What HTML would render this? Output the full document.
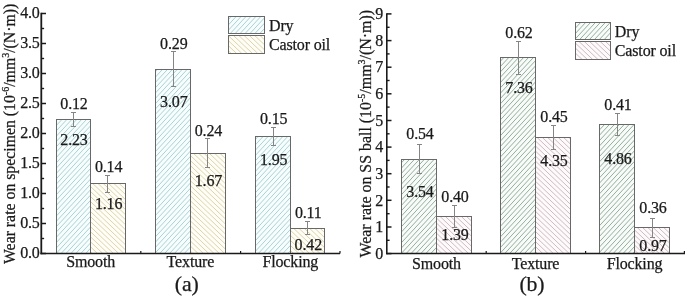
<!DOCTYPE html>
<html><head><meta charset="utf-8"><title>Wear rate</title>
<style>
html,body{margin:0;padding:0;background:#fff;}
body{width:685px;height:296px;overflow:hidden;}
svg{display:block;font-family:"Liberation Serif",serif;}
text{fill:#1a1a1a;stroke:#1a1a1a;stroke-width:0.25px;letter-spacing:-0.15px;}
text.yl{letter-spacing:0;}
</style></head><body>
<svg width="685" height="296" viewBox="0 0 685 296">
<rect width="685" height="296" fill="#fff"/>

<rect x="56.5" y="119.5" width="34.0" height="134.0" fill="#f7fcfc"/><path d="M57.0 119.5L56.5 120.0M61.9 119.5L56.5 125.3M66.8 119.5L56.5 130.6M71.8 119.5L56.5 136.0M76.7 119.5L56.5 141.3M81.6 119.5L56.5 146.6M86.5 119.5L56.5 151.9M90.5 120.5L56.5 157.3M90.5 125.9L56.5 162.6M90.5 131.2L56.5 167.9M90.5 136.5L56.5 173.2M90.5 141.8L56.5 178.6M90.5 147.2L56.5 183.9M90.5 152.5L56.5 189.2M90.5 157.8L56.5 194.5M90.5 163.1L56.5 199.9M90.5 168.5L56.5 205.2M90.5 173.8L56.5 210.5M90.5 179.1L56.5 215.8M90.5 184.4L56.5 221.2M90.5 189.8L56.5 226.5M90.5 195.1L56.5 231.8M90.5 200.4L56.5 237.1M90.5 205.7L56.5 242.4M90.5 211.1L56.5 247.8M90.5 216.4L56.5 253.1M90.5 221.7L61.1 253.5M90.5 227.0L66.0 253.5M90.5 232.4L70.9 253.5M90.5 237.7L75.8 253.5M90.5 243.0L80.8 253.5M90.5 248.3L85.7 253.5" stroke="#96c8cc" stroke-width="0.8" fill="none"/><rect x="56.5" y="119.5" width="34.0" height="134.0" fill="none" stroke="#686868" stroke-width="1"/>
<rect x="90.5" y="183.5" width="35.0" height="70.0" fill="#fefdf8"/><path d="M90.5 251.9L92.2 253.5M90.5 246.8L97.5 253.5M90.5 241.8L102.8 253.5M90.5 236.8L108.1 253.5M90.5 231.7L113.4 253.5M90.5 226.7L118.7 253.5M90.5 221.7L124.0 253.5M90.5 216.6L125.5 249.9M90.5 211.6L125.5 244.8M90.5 206.6L125.5 239.8M90.5 201.6L125.5 234.8M90.5 196.5L125.5 229.7M90.5 191.5L125.5 224.7M90.5 186.5L125.5 219.7M92.7 183.5L125.5 214.7M98.0 183.5L125.5 209.6M103.3 183.5L125.5 204.6M108.6 183.5L125.5 199.6M113.9 183.5L125.5 194.5M119.2 183.5L125.5 189.5M124.5 183.5L125.5 184.5" stroke="#d5ca92" stroke-width="0.8" fill="none"/><rect x="90.5" y="183.5" width="35.0" height="70.0" fill="none" stroke="#686868" stroke-width="1"/>
<rect x="155.5" y="69.5" width="35.0" height="184.0" fill="#f7fcfc"/><path d="M157.5 69.5L155.5 71.7M162.4 69.5L155.5 77.0M167.4 69.5L155.5 82.3M172.3 69.5L155.5 87.6M177.2 69.5L155.5 92.9M182.1 69.5L155.5 98.3M187.1 69.5L155.5 103.6M190.5 71.1L155.5 108.9M190.5 76.4L155.5 114.2M190.5 81.8L155.5 119.6M190.5 87.1L155.5 124.9M190.5 92.4L155.5 130.2M190.5 97.7L155.5 135.5M190.5 103.1L155.5 140.9M190.5 108.4L155.5 146.2M190.5 113.7L155.5 151.5M190.5 119.0L155.5 156.8M190.5 124.4L155.5 162.2M190.5 129.7L155.5 167.5M190.5 135.0L155.5 172.8M190.5 140.3L155.5 178.1M190.5 145.7L155.5 183.5M190.5 151.0L155.5 188.8M190.5 156.3L155.5 194.1M190.5 161.6L155.5 199.4M190.5 167.0L155.5 204.7M190.5 172.3L155.5 210.1M190.5 177.6L155.5 215.4M190.5 182.9L155.5 220.7M190.5 188.2L155.5 226.0M190.5 193.6L155.5 231.4M190.5 198.9L155.5 236.7M190.5 204.2L155.5 242.0M190.5 209.5L155.5 247.3M190.5 214.9L155.5 252.7M190.5 220.2L159.7 253.5M190.5 225.5L164.6 253.5M190.5 230.8L169.5 253.5M190.5 236.2L174.4 253.5M190.5 241.5L179.4 253.5M190.5 246.8L184.3 253.5M190.5 252.1L189.2 253.5" stroke="#96c8cc" stroke-width="0.8" fill="none"/><rect x="155.5" y="69.5" width="35.0" height="184.0" fill="none" stroke="#686868" stroke-width="1"/>
<rect x="190.5" y="153.5" width="35.0" height="100.0" fill="#fefdf8"/><path d="M190.5 251.2L192.9 253.5M190.5 246.2L198.2 253.5M190.5 241.1L203.5 253.5M190.5 236.1L208.8 253.5M190.5 231.1L214.1 253.5M190.5 226.0L219.4 253.5M190.5 221.0L224.7 253.5M190.5 216.0L225.5 249.2M190.5 211.0L225.5 244.2M190.5 205.9L225.5 239.1M190.5 200.9L225.5 234.1M190.5 195.9L225.5 229.1M190.5 190.8L225.5 224.1M190.5 185.8L225.5 219.0M190.5 180.8L225.5 214.0M190.5 175.7L225.5 209.0M190.5 170.7L225.5 203.9M190.5 165.7L225.5 198.9M190.5 160.7L225.5 193.9M190.5 155.6L225.5 188.8M193.6 153.5L225.5 183.8M198.9 153.5L225.5 178.8M204.2 153.5L225.5 173.8M209.5 153.5L225.5 168.7M214.8 153.5L225.5 163.7M220.1 153.5L225.5 158.7" stroke="#d5ca92" stroke-width="0.8" fill="none"/><rect x="190.5" y="153.5" width="35.0" height="100.0" fill="none" stroke="#686868" stroke-width="1"/>
<rect x="255.5" y="136.5" width="35.0" height="117.0" fill="#f7fcfc"/><path d="M258.1 136.5L255.5 139.4M263.1 136.5L255.5 144.7M268.0 136.5L255.5 150.0M272.9 136.5L255.5 155.3M277.9 136.5L255.5 160.6M282.8 136.5L255.5 166.0M287.7 136.5L255.5 171.3M290.5 138.8L255.5 176.6M290.5 144.1L255.5 181.9M290.5 149.5L255.5 187.3M290.5 154.8L255.5 192.6M290.5 160.1L255.5 197.9M290.5 165.4L255.5 203.2M290.5 170.8L255.5 208.6M290.5 176.1L255.5 213.9M290.5 181.4L255.5 219.2M290.5 186.7L255.5 224.5M290.5 192.1L255.5 229.9M290.5 197.4L255.5 235.2M290.5 202.7L255.5 240.5M290.5 208.0L255.5 245.8M290.5 213.4L255.5 251.2M290.5 218.7L258.3 253.5M290.5 224.0L263.2 253.5M290.5 229.3L268.1 253.5M290.5 234.7L273.0 253.5M290.5 240.0L278.0 253.5M290.5 245.3L282.9 253.5M290.5 250.6L287.8 253.5" stroke="#96c8cc" stroke-width="0.8" fill="none"/><rect x="255.5" y="136.5" width="35.0" height="117.0" fill="none" stroke="#686868" stroke-width="1"/>
<rect x="290.5" y="228.5" width="34.0" height="25.0" fill="#fefdf8"/><path d="M290.5 250.5L293.6 253.5M290.5 245.5L298.9 253.5M290.5 240.5L304.2 253.5M290.5 235.4L309.5 253.5M290.5 230.4L314.8 253.5M293.8 228.5L320.1 253.5M299.1 228.5L324.5 252.6M304.4 228.5L324.5 247.6M309.7 228.5L324.5 242.6M315.0 228.5L324.5 237.5M320.3 228.5L324.5 232.5" stroke="#d5ca92" stroke-width="0.8" fill="none"/><rect x="290.5" y="228.5" width="34.0" height="25.0" fill="none" stroke="#686868" stroke-width="1"/>
<path d="M73.5 112.5V126.5M71.0 112.5H76.0M71.0 126.5H76.0" stroke="#858585" stroke-width="1" fill="none"/>
<text x="74.0" y="109.0" font-size="16" text-anchor="middle">0.12</text>
<text x="74.0" y="145.0" font-size="16" text-anchor="middle">2.23</text>
<path d="M107.5 175.5V192.5M105.0 175.5H110.0M105.0 192.5H110.0" stroke="#858585" stroke-width="1" fill="none"/>
<text x="108.6" y="172.4" font-size="16" text-anchor="middle">0.14</text>
<text x="108.6" y="208.5" font-size="16" text-anchor="middle">1.16</text>
<path d="M173.5 51.5V86.5M171.0 51.5H176.0M171.0 86.5H176.0" stroke="#858585" stroke-width="1" fill="none"/>
<text x="173.8" y="48.5" font-size="16" text-anchor="middle">0.29</text>
<text x="173.8" y="106.8" font-size="16" text-anchor="middle">3.07</text>
<path d="M207.5 138.5V167.5M205.0 138.5H210.0M205.0 167.5H210.0" stroke="#858585" stroke-width="1" fill="none"/>
<text x="208.4" y="136.0" font-size="16" text-anchor="middle">0.24</text>
<text x="208.4" y="186.0" font-size="16" text-anchor="middle">1.67</text>
<path d="M273.5 127.5V145.5M271.0 127.5H276.0M271.0 145.5H276.0" stroke="#858585" stroke-width="1" fill="none"/>
<text x="273.7" y="124.2" font-size="16" text-anchor="middle">0.15</text>
<text x="273.7" y="164.5" font-size="16" text-anchor="middle">1.95</text>
<path d="M307.5 221.5V234.5M305.0 221.5H310.0M305.0 234.5H310.0" stroke="#858585" stroke-width="1" fill="none"/>
<text x="308.3" y="218.0" font-size="16" text-anchor="middle">0.11</text>
<text x="308.3" y="250.0" font-size="16" text-anchor="middle">0.42</text>
<path d="M41.3 12.75V254.25" stroke="#1a1a1a" stroke-width="1.8" fill="none"/>
<path d="M40.4 253.5H340" stroke="#1a1a1a" stroke-width="1.5" fill="none"/>
<line x1="41.3" x2="46.0" y1="253.5" y2="253.5" stroke="#1a1a1a" stroke-width="1.5"/>
<text x="39.699999999999996" y="258.4" font-size="16" text-anchor="end">0.0</text>
<line x1="41.3" x2="44.099999999999994" y1="238.5" y2="238.5" stroke="#1a1a1a" stroke-width="1.4"/>
<line x1="41.3" x2="46.0" y1="223.5" y2="223.5" stroke="#1a1a1a" stroke-width="1.5"/>
<text x="39.699999999999996" y="228.4" font-size="16" text-anchor="end">0.5</text>
<line x1="41.3" x2="44.099999999999994" y1="208.5" y2="208.5" stroke="#1a1a1a" stroke-width="1.4"/>
<line x1="41.3" x2="46.0" y1="193.5" y2="193.5" stroke="#1a1a1a" stroke-width="1.5"/>
<text x="39.699999999999996" y="198.4" font-size="16" text-anchor="end">1.0</text>
<line x1="41.3" x2="44.099999999999994" y1="178.5" y2="178.5" stroke="#1a1a1a" stroke-width="1.4"/>
<line x1="41.3" x2="46.0" y1="163.5" y2="163.5" stroke="#1a1a1a" stroke-width="1.5"/>
<text x="39.699999999999996" y="168.4" font-size="16" text-anchor="end">1.5</text>
<line x1="41.3" x2="44.099999999999994" y1="148.5" y2="148.5" stroke="#1a1a1a" stroke-width="1.4"/>
<line x1="41.3" x2="46.0" y1="133.5" y2="133.5" stroke="#1a1a1a" stroke-width="1.5"/>
<text x="39.699999999999996" y="138.4" font-size="16" text-anchor="end">2.0</text>
<line x1="41.3" x2="44.099999999999994" y1="118.5" y2="118.5" stroke="#1a1a1a" stroke-width="1.4"/>
<line x1="41.3" x2="46.0" y1="103.5" y2="103.5" stroke="#1a1a1a" stroke-width="1.5"/>
<text x="39.699999999999996" y="108.4" font-size="16" text-anchor="end">2.5</text>
<line x1="41.3" x2="44.099999999999994" y1="88.5" y2="88.5" stroke="#1a1a1a" stroke-width="1.4"/>
<line x1="41.3" x2="46.0" y1="73.5" y2="73.5" stroke="#1a1a1a" stroke-width="1.5"/>
<text x="39.699999999999996" y="78.4" font-size="16" text-anchor="end">3.0</text>
<line x1="41.3" x2="44.099999999999994" y1="58.5" y2="58.5" stroke="#1a1a1a" stroke-width="1.4"/>
<line x1="41.3" x2="46.0" y1="43.5" y2="43.5" stroke="#1a1a1a" stroke-width="1.5"/>
<text x="39.699999999999996" y="48.4" font-size="16" text-anchor="end">3.5</text>
<line x1="41.3" x2="44.099999999999994" y1="28.5" y2="28.5" stroke="#1a1a1a" stroke-width="1.4"/>
<line x1="41.3" x2="46.0" y1="13.5" y2="13.5" stroke="#1a1a1a" stroke-width="1.5"/>
<text x="39.699999999999996" y="18.4" font-size="16" text-anchor="end">4.0</text>
<line x1="140.8" x2="140.8" y1="253.5" y2="250.9" stroke="#1a1a1a" stroke-width="1.2"/>
<line x1="240.6" x2="240.6" y1="253.5" y2="250.9" stroke="#1a1a1a" stroke-width="1.2"/>
<line x1="340" x2="340" y1="253.5" y2="250.9" stroke="#1a1a1a" stroke-width="1.2"/>
<text x="90.6" y="267" font-size="16" text-anchor="middle">Smooth</text>
<text x="190.4" y="267" font-size="16" text-anchor="middle">Texture</text>
<text x="290.3" y="267" font-size="16" text-anchor="middle">Flocking</text>
<text x="186.7" y="291.3" font-size="21.8" text-anchor="middle">(a)</text>
<text class="yl" transform="translate(15.4 133.85) rotate(-90)" font-size="15.8" text-anchor="middle">Wear rate on specimen (10<tspan font-size="10" dy="-6">-6</tspan><tspan dy="6">/mm</tspan><tspan font-size="10" dy="-6">3</tspan><tspan dy="6">/(N·m))</tspan></text>
<rect x="228.5" y="16.5" width="36.0" height="17.0" fill="#f7fcfc"/><path d="M231.2 16.5L228.5 19.4M236.2 16.5L228.5 24.8M241.1 16.5L228.5 30.1M246.0 16.5L230.3 33.5M250.9 16.5L235.2 33.5M255.9 16.5L240.1 33.5M260.8 16.5L245.1 33.5M264.5 17.8L250.0 33.5M264.5 23.2L254.9 33.5M264.5 28.5L259.8 33.5" stroke="#96c8cc" stroke-width="0.8" fill="none"/><rect x="228.5" y="16.5" width="36.0" height="17.0" fill="none" stroke="#686868" stroke-width="1"/>
<text x="269" y="31" font-size="16">Dry</text>
<rect x="228.5" y="35.5" width="36.0" height="18.0" fill="#fefdf8"/><path d="M228.5 50.9L231.3 53.5M228.5 45.8L236.6 53.5M228.5 40.8L241.9 53.5M228.5 35.8L247.2 53.5M233.5 35.5L252.5 53.5M238.8 35.5L257.8 53.5M244.1 35.5L263.1 53.5M249.4 35.5L264.5 49.8M254.7 35.5L264.5 44.8M260.0 35.5L264.5 39.8" stroke="#d5ca92" stroke-width="0.8" fill="none"/><rect x="228.5" y="35.5" width="36.0" height="18.0" fill="none" stroke="#686868" stroke-width="1"/>
<text x="269" y="50" font-size="16">Castor oil</text>
<rect x="401.5" y="159.5" width="35.0" height="94.0" fill="#f8fbf9"/><path d="M404.5 159.5L401.5 162.7M409.4 159.5L401.5 168.0M414.3 159.5L401.5 173.3M419.3 159.5L401.5 178.7M424.2 159.5L401.5 184.0M429.1 159.5L401.5 189.3M434.0 159.5L401.5 194.6M436.5 162.2L401.5 200.0M436.5 167.5L401.5 205.3M436.5 172.8L401.5 210.6M436.5 178.1L401.5 215.9M436.5 183.5L401.5 221.3M436.5 188.8L401.5 226.6M436.5 194.1L401.5 231.9M436.5 199.4L401.5 237.2M436.5 204.8L401.5 242.6M436.5 210.1L401.5 247.9M436.5 215.4L401.5 253.2M436.5 220.7L406.2 253.5M436.5 226.1L411.1 253.5M436.5 231.4L416.0 253.5M436.5 236.7L420.9 253.5M436.5 242.0L425.9 253.5M436.5 247.4L430.8 253.5M436.5 252.7L435.7 253.5" stroke="#86a790" stroke-width="0.9" fill="none"/><rect x="401.5" y="159.5" width="35.0" height="94.0" fill="none" stroke="#686868" stroke-width="1"/>
<rect x="436.5" y="216.5" width="35.0" height="37.0" fill="#fefafb"/><path d="M436.5 248.2L442.0 253.5M436.5 243.2L447.3 253.5M436.5 238.2L452.6 253.5M436.5 233.2L457.9 253.5M436.5 228.1L463.2 253.5M436.5 223.1L468.5 253.5M436.5 218.1L471.5 251.3M440.1 216.5L471.5 246.3M445.4 216.5L471.5 241.2M450.7 216.5L471.5 236.2M456.0 216.5L471.5 231.2M461.3 216.5L471.5 226.1M466.6 216.5L471.5 221.1" stroke="#c6b4b9" stroke-width="0.9" fill="none"/><rect x="436.5" y="216.5" width="35.0" height="37.0" fill="none" stroke="#686868" stroke-width="1"/>
<rect x="500.5" y="57.5" width="35.0" height="196.0" fill="#f8fbf9"/><path d="M503.8 57.5L500.5 61.1M508.8 57.5L500.5 66.4M513.7 57.5L500.5 71.8M518.6 57.5L500.5 77.1M523.6 57.5L500.5 82.4M528.5 57.5L500.5 87.7M533.4 57.5L500.5 93.1M535.5 60.6L500.5 98.4M535.5 65.9L500.5 103.7M535.5 71.2L500.5 109.0M535.5 76.6L500.5 114.4M535.5 81.9L500.5 119.7M535.5 87.2L500.5 125.0M535.5 92.5L500.5 130.3M535.5 97.8L500.5 135.6M535.5 103.2L500.5 141.0M535.5 108.5L500.5 146.3M535.5 113.8L500.5 151.6M535.5 119.1L500.5 156.9M535.5 124.5L500.5 162.3M535.5 129.8L500.5 167.6M535.5 135.1L500.5 172.9M535.5 140.4L500.5 178.2M535.5 145.8L500.5 183.6M535.5 151.1L500.5 188.9M535.5 156.4L500.5 194.2M535.5 161.7L500.5 199.5M535.5 167.1L500.5 204.9M535.5 172.4L500.5 210.2M535.5 177.7L500.5 215.5M535.5 183.0L500.5 220.8M535.5 188.4L500.5 226.2M535.5 193.7L500.5 231.5M535.5 199.0L500.5 236.8M535.5 204.3L500.5 242.1M535.5 209.7L500.5 247.4M535.5 215.0L500.5 252.8M535.5 220.3L504.8 253.5M535.5 225.6L509.7 253.5M535.5 230.9L514.6 253.5M535.5 236.3L519.5 253.5M535.5 241.6L524.5 253.5M535.5 246.9L529.4 253.5M535.5 252.2L534.3 253.5" stroke="#86a790" stroke-width="0.9" fill="none"/><rect x="500.5" y="57.5" width="35.0" height="196.0" fill="none" stroke="#686868" stroke-width="1"/>
<rect x="535.5" y="137.5" width="35.0" height="116.0" fill="#fefafb"/><path d="M535.5 251.7L537.4 253.5M535.5 246.6L542.7 253.5M535.5 241.6L548.0 253.5M535.5 236.6L553.3 253.5M535.5 231.5L558.6 253.5M535.5 226.5L563.9 253.5M535.5 221.5L569.2 253.5M535.5 216.5L570.5 249.7M535.5 211.4L570.5 244.6M535.5 206.4L570.5 239.6M535.5 201.4L570.5 234.6M535.5 196.3L570.5 229.6M535.5 191.3L570.5 224.5M535.5 186.3L570.5 219.5M535.5 181.3L570.5 214.5M535.5 176.2L570.5 209.4M535.5 171.2L570.5 204.4M535.5 166.2L570.5 199.4M535.5 161.1L570.5 194.3M535.5 156.1L570.5 189.3M535.5 151.1L570.5 184.3M535.5 146.0L570.5 179.3M535.5 141.0L570.5 174.2M537.1 137.5L570.5 169.2M542.4 137.5L570.5 164.2M547.7 137.5L570.5 159.1M553.0 137.5L570.5 154.1M558.3 137.5L570.5 149.1M563.6 137.5L570.5 144.1M568.9 137.5L570.5 139.0" stroke="#c6b4b9" stroke-width="0.9" fill="none"/><rect x="535.5" y="137.5" width="35.0" height="116.0" fill="none" stroke="#686868" stroke-width="1"/>
<rect x="599.5" y="124.5" width="35.0" height="129.0" fill="#f8fbf9"/><path d="M604.5 124.5L599.5 129.9M609.4 124.5L599.5 135.2M614.4 124.5L599.5 140.5M619.3 124.5L599.5 145.9M624.2 124.5L599.5 151.2M629.1 124.5L599.5 156.5M634.1 124.5L599.5 161.8M634.5 129.4L599.5 167.2M634.5 134.7L599.5 172.5M634.5 140.0L599.5 177.8M634.5 145.3L599.5 183.1M634.5 150.7L599.5 188.5M634.5 156.0L599.5 193.8M634.5 161.3L599.5 199.1M634.5 166.6L599.5 204.4M634.5 172.0L599.5 209.7M634.5 177.3L599.5 215.1M634.5 182.6L599.5 220.4M634.5 187.9L599.5 225.7M634.5 193.2L599.5 231.0M634.5 198.6L599.5 236.4M634.5 203.9L599.5 241.7M634.5 209.2L599.5 247.0M634.5 214.5L599.5 252.3M634.5 219.9L603.4 253.5M634.5 225.2L608.3 253.5M634.5 230.5L613.2 253.5M634.5 235.8L618.1 253.5M634.5 241.2L623.1 253.5M634.5 246.5L628.0 253.5M634.5 251.8L632.9 253.5" stroke="#86a790" stroke-width="0.9" fill="none"/><rect x="599.5" y="124.5" width="35.0" height="129.0" fill="none" stroke="#686868" stroke-width="1"/>
<rect x="634.5" y="227.5" width="35.0" height="26.0" fill="#fefafb"/><path d="M634.5 250.1L638.1 253.5M634.5 245.0L643.4 253.5M634.5 240.0L648.7 253.5M634.5 235.0L654.0 253.5M634.5 229.9L659.3 253.5M637.2 227.5L664.6 253.5M642.5 227.5L669.5 253.1M647.8 227.5L669.5 248.1M653.1 227.5L669.5 243.0M658.4 227.5L669.5 238.0M663.7 227.5L669.5 233.0M669.0 227.5L669.5 227.9" stroke="#c6b4b9" stroke-width="0.9" fill="none"/><rect x="634.5" y="227.5" width="35.0" height="26.0" fill="none" stroke="#686868" stroke-width="1"/>
<path d="M419.5 144.5V173.5M417.0 144.5H422.0M417.0 173.5H422.0" stroke="#858585" stroke-width="1" fill="none"/>
<text x="420.0" y="139.0" font-size="16" text-anchor="middle">0.54</text>
<text x="420.0" y="196.5" font-size="16" text-anchor="middle">3.54</text>
<path d="M454.5 205.5V227.5M452.0 205.5H457.0M452.0 227.5H457.0" stroke="#858585" stroke-width="1" fill="none"/>
<text x="455.0" y="202.0" font-size="16" text-anchor="middle">0.40</text>
<text x="455.0" y="239.5" font-size="16" text-anchor="middle">1.39</text>
<path d="M518.5 41.5V74.5M516.0 41.5H521.0M516.0 74.5H521.0" stroke="#858585" stroke-width="1" fill="none"/>
<text x="519.0" y="37.6" font-size="16" text-anchor="middle">0.62</text>
<text x="519.0" y="93.0" font-size="16" text-anchor="middle">7.36</text>
<path d="M553.5 125.5V149.5M551.0 125.5H556.0M551.0 149.5H556.0" stroke="#858585" stroke-width="1" fill="none"/>
<text x="554.0" y="122.3" font-size="16" text-anchor="middle">0.45</text>
<text x="554.0" y="166.0" font-size="16" text-anchor="middle">4.35</text>
<path d="M617.5 113.5V135.5M615.0 113.5H620.0M615.0 135.5H620.0" stroke="#858585" stroke-width="1" fill="none"/>
<text x="618.0" y="110.0" font-size="16" text-anchor="middle">0.41</text>
<text x="618.0" y="164.0" font-size="16" text-anchor="middle">4.86</text>
<path d="M652.5 218.5V237.5M650.0 218.5H655.0M650.0 237.5H655.0" stroke="#858585" stroke-width="1" fill="none"/>
<text x="653.0" y="213.0" font-size="16" text-anchor="middle">0.36</text>
<text x="653.0" y="251.0" font-size="16" text-anchor="middle">0.97</text>
<path d="M386.8 13.2V254.35" stroke="#1a1a1a" stroke-width="1.6" fill="none"/>
<path d="M386.0 253.6H685" stroke="#1a1a1a" stroke-width="1.5" fill="none"/>
<line x1="386.8" x2="391.5" y1="253.6" y2="253.6" stroke="#1a1a1a" stroke-width="1.5"/>
<text x="383.2" y="258.8" font-size="16" text-anchor="end">0</text>
<line x1="386.8" x2="389.6" y1="240.3" y2="240.3" stroke="#1a1a1a" stroke-width="1.4"/>
<line x1="386.8" x2="391.5" y1="227.0" y2="227.0" stroke="#1a1a1a" stroke-width="1.5"/>
<text x="383.2" y="232.1" font-size="16" text-anchor="end">1</text>
<line x1="386.8" x2="389.6" y1="213.7" y2="213.7" stroke="#1a1a1a" stroke-width="1.4"/>
<line x1="386.8" x2="391.5" y1="200.3" y2="200.3" stroke="#1a1a1a" stroke-width="1.5"/>
<text x="383.2" y="205.5" font-size="16" text-anchor="end">2</text>
<line x1="386.8" x2="389.6" y1="187.0" y2="187.0" stroke="#1a1a1a" stroke-width="1.4"/>
<line x1="386.8" x2="391.5" y1="173.7" y2="173.7" stroke="#1a1a1a" stroke-width="1.5"/>
<text x="383.2" y="178.9" font-size="16" text-anchor="end">3</text>
<line x1="386.8" x2="389.6" y1="160.4" y2="160.4" stroke="#1a1a1a" stroke-width="1.4"/>
<line x1="386.8" x2="391.5" y1="147.1" y2="147.1" stroke="#1a1a1a" stroke-width="1.5"/>
<text x="383.2" y="152.2" font-size="16" text-anchor="end">4</text>
<line x1="386.8" x2="389.6" y1="133.8" y2="133.8" stroke="#1a1a1a" stroke-width="1.4"/>
<line x1="386.8" x2="391.5" y1="120.5" y2="120.5" stroke="#1a1a1a" stroke-width="1.5"/>
<text x="383.2" y="125.6" font-size="16" text-anchor="end">5</text>
<line x1="386.8" x2="389.6" y1="107.1" y2="107.1" stroke="#1a1a1a" stroke-width="1.4"/>
<line x1="386.8" x2="391.5" y1="93.8" y2="93.8" stroke="#1a1a1a" stroke-width="1.5"/>
<text x="383.2" y="99.0" font-size="16" text-anchor="end">6</text>
<line x1="386.8" x2="389.6" y1="80.5" y2="80.5" stroke="#1a1a1a" stroke-width="1.4"/>
<line x1="386.8" x2="391.5" y1="67.2" y2="67.2" stroke="#1a1a1a" stroke-width="1.5"/>
<text x="383.2" y="72.4" font-size="16" text-anchor="end">7</text>
<line x1="386.8" x2="389.6" y1="53.9" y2="53.9" stroke="#1a1a1a" stroke-width="1.4"/>
<line x1="386.8" x2="391.5" y1="40.6" y2="40.6" stroke="#1a1a1a" stroke-width="1.5"/>
<text x="383.2" y="45.7" font-size="16" text-anchor="end">8</text>
<line x1="386.8" x2="389.6" y1="27.3" y2="27.3" stroke="#1a1a1a" stroke-width="1.4"/>
<line x1="386.8" x2="391.5" y1="13.9" y2="13.9" stroke="#1a1a1a" stroke-width="1.5"/>
<text x="383.2" y="19.1" font-size="16" text-anchor="end">9</text>
<line x1="486.2" x2="486.2" y1="253.6" y2="251.0" stroke="#1a1a1a" stroke-width="1.2"/>
<line x1="585.6" x2="585.6" y1="253.6" y2="251.0" stroke="#1a1a1a" stroke-width="1.2"/>
<line x1="684.4" x2="684.4" y1="253.6" y2="251.0" stroke="#1a1a1a" stroke-width="1.2"/>
<text x="436.5" y="268.6" font-size="16" text-anchor="middle">Smooth</text>
<text x="535.5" y="268.6" font-size="16" text-anchor="middle">Texture</text>
<text x="634.5" y="268.6" font-size="16" text-anchor="middle">Flocking</text>
<text x="532" y="291.3" font-size="21.8" text-anchor="middle">(b)</text>
<text class="yl" transform="translate(370.9 133.75) rotate(-90)" font-size="15.92" text-anchor="middle">Wear rate on SS ball (10<tspan font-size="10" dy="-6">-5</tspan><tspan dy="6">/mm</tspan><tspan font-size="10" dy="-6">3</tspan><tspan dy="6">/(N·m))</tspan></text>
<rect x="575.5" y="22.5" width="35.0" height="17.0" fill="#f8fbf9"/><path d="M580.6 22.5L575.5 28.0M585.6 22.5L575.5 33.4M590.5 22.5L575.5 38.7M595.4 22.5L579.7 39.5M600.3 22.5L584.6 39.5M605.3 22.5L589.5 39.5M610.2 22.5L594.5 39.5M610.5 27.5L599.4 39.5M610.5 32.8L604.3 39.5M610.5 38.2L609.3 39.5" stroke="#86a790" stroke-width="0.9" fill="none"/><rect x="575.5" y="22.5" width="35.0" height="17.0" fill="none" stroke="#686868" stroke-width="1"/>
<text x="614.8" y="36.5" font-size="16">Dry</text>
<rect x="575.5" y="41.5" width="35.0" height="18.0" fill="#fefafb"/><path d="M575.5 58.3L576.8 59.5M575.5 53.2L582.1 59.5M575.5 48.2L587.4 59.5M575.5 43.2L592.7 59.5M579.0 41.5L598.0 59.5M584.3 41.5L603.3 59.5M589.6 41.5L608.6 59.5M594.9 41.5L610.5 56.3M600.2 41.5L610.5 51.2M605.5 41.5L610.5 46.2" stroke="#c6b4b9" stroke-width="0.9" fill="none"/><rect x="575.5" y="41.5" width="35.0" height="18.0" fill="none" stroke="#686868" stroke-width="1"/>
<text x="614.8" y="55.6" font-size="16">Castor oil</text>
</svg></body></html>
